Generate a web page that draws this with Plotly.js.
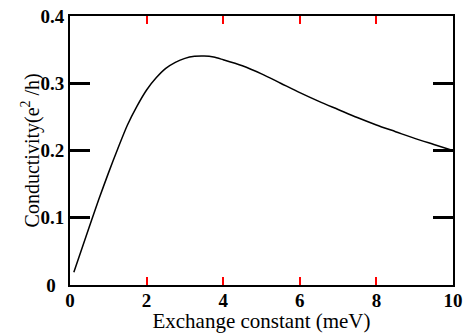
<!DOCTYPE html>
<html>
<head>
<meta charset="utf-8">
<script src="https://cdn.plot.ly/plotly-3.0.1.min.js"></script>
<style>html,body{margin:0;padding:0;background:#fff;}#chart{width:469px;height:333px;}</style>
</head>
<body>
<div id="chart"></div>
<script>
const exchange = [0.1, 0.5, 0.75, 1.0, 1.25, 1.5, 1.75, 2.0, 2.25, 2.5, 2.75, 3.0, 3.25, 3.5, 3.75, 4.0, 4.5, 5.0, 5.5, 6.0, 6.5, 7.0, 7.5, 8.0, 8.5, 9.0, 9.5, 10.0];
const conductivity = [0.019, 0.086, 0.127, 0.166, 0.203, 0.238, 0.266, 0.290, 0.308, 0.322, 0.331, 0.337, 0.340, 0.3405, 0.339, 0.335, 0.326, 0.314, 0.300, 0.286, 0.273, 0.261, 0.249, 0.238, 0.228, 0.218, 0.209, 0.200];
const xTickVals = [0, 2, 4, 6, 8, 10];
const xTickText = ["0", "2", "4", "6", "8", "10"];
const xMinorVals = [1, 3, 5, 7, 9];
const yTickVals = [0, 0.1, 0.2, 0.3, 0.4];
const yTickText = ["0\u00a0\u2009", "0.1", "0.2", "0.3", "0.4"];
const yMinorVals = [0.05, 0.15, 0.25, 0.35];

const serif = "Liberation Serif";
const tickFont = {family: serif, size: 19, color: "#000", weight: 700};

const data = [{
  x: exchange, y: conductivity, type: "scatter", mode: "lines",
  line: {color: "#000", width: 1.5, shape: "spline", smoothing: 0.8},
  hoverinfo: "none"
}];

const minorCommon = {
  tickmode: "array", showticklabels: false,
  showline: true, linecolor: "#000", linewidth: 2, mirror: "ticks",
  ticks: "inside", ticklen: 4, tickwidth: 2, tickcolor: "#000",
  showgrid: false, zeroline: false
};

const layout = {
  width: 469, height: 333,
  margin: {l: 70, r: 16, t: 16, b: 48},
  paper_bgcolor: "#fff", plot_bgcolor: "#fff",
  showlegend: false,
  xaxis: {
    range: [0, 10], tickmode: "array", tickvals: xTickVals, ticktext: xTickText,
    showline: true, linecolor: "#000", linewidth: 2, mirror: "ticks",
    ticks: "inside", ticklen: 8, tickwidth: 2, tickcolor: "red",
    ticklabelstandoff: -3,
    showgrid: false, zeroline: false, tickfont: tickFont,
    title: {text: "Exchange constant (meV)", font: {family: serif, size: 21, color: "#000"}, standoff: 1}
  },
  yaxis: {
    range: [0, 0.4], tickmode: "array", tickvals: yTickVals, ticktext: yTickText,
    showline: true, linecolor: "#000", linewidth: 2, mirror: "ticks",
    ticks: "inside", ticklen: 20, tickwidth: 3, tickcolor: "#000",
    showgrid: false, zeroline: false, tickfont: tickFont
  },
  xaxis2: Object.assign({}, minorCommon, {
    overlaying: "x", anchor: "y2", side: "bottom", range: [0, 10], tickvals: xMinorVals
  }),
  yaxis2: Object.assign({}, minorCommon, {
    overlaying: "y", anchor: "x2", side: "left", range: [0, 0.4], tickvals: yMinorVals
  }),
  annotations: [{
    text: "Conductivity(e<sup>2</sup> /h)", textangle: -90,
    xref: "paper", yref: "paper", x: -0.102, y: 0.5,
    xanchor: "center", yanchor: "middle", showarrow: false,
    font: {family: serif, size: 20, color: "#000"}
  }]
};

Plotly.newPlot("chart", data, layout, {staticPlot: true, displayModeBar: false});
</script>
</body>
</html>
